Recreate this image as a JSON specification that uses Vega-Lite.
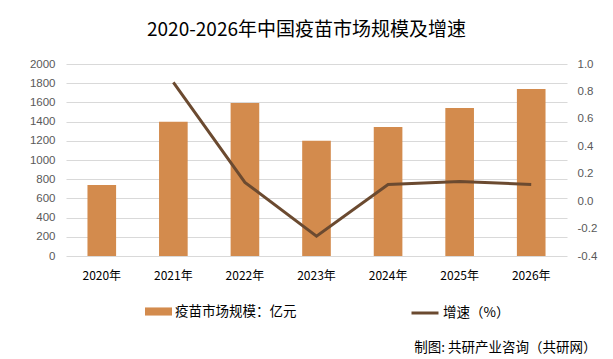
{
  "$schema": "https://vega.github.io/schema/vega-lite/v6.json",
  "width": 501,
  "height": 192,
  "autosize": {"type": "none"},
  "padding": {"left": 66, "top": 64, "right": 46, "bottom": 103},
  "background": "white",
  "title": {
    "text": "2020-2026年中国疫苗市场规模及增速",
    "font": "Noto Sans CJK SC",
    "fontSize": 19,
    "fontWeight": "normal",
    "color": "#000000",
    "anchor": "middle",
    "dx": -10,
    "offset": 18
  },
  "data": {
    "values": [
      {"year": "2020年", "size": 740, "growth": null},
      {"year": "2021年", "size": 1398, "growth": 0.866},
      {"year": "2022年", "size": 1595, "growth": 0.137},
      {"year": "2023年", "size": 1200, "growth": -0.256},
      {"year": "2024年", "size": 1345, "growth": 0.122},
      {"year": "2025年", "size": 1542, "growth": 0.144},
      {"year": "2026年", "size": 1740, "growth": 0.122}
    ]
  },
  "encoding": {
    "x": {
      "field": "year",
      "type": "ordinal",
      "sort": null,
      "scale": {"paddingInner": 0.6, "paddingOuter": 0.3},
      "axis": {
        "title": "制图: 共研产业咨询（共研网）",
        "titleFont": "Noto Sans CJK SC",
        "titleFontSize": 13.5,
        "titleFontWeight": "normal",
        "titleColor": "#000000",
        "titleAnchor": null,
        "titleAlign": "right",
        "titleBaseline": "middle",
        "titleX": 530,
        "titleY": 91,
        "labelAngle": 0,
        "labelFont": "Noto Sans CJK SC",
        "labelFontSize": 12,
        "labelColor": "#000000",
        "labelPadding": 14,
        "ticks": false,
        "domain": false,
        "grid": false
      }
    }
  },
  "layer": [
    {
      "mark": {"type": "bar"},
      "encoding": {
        "y": {
          "field": "size",
          "type": "quantitative",
          "scale": {"domain": [0, 2000], "nice": false},
          "axis": {
            "title": null,
            "values": [0, 200, 400, 600, 800, 1000, 1200, 1400, 1600, 1800, 2000],
            "format": "d",
            "grid": true,
            "gridColor": "#D9D9D9",
            "gridWidth": 1,
            "domain": false,
            "ticks": false,
            "labelPadding": 11,
            "labelFont": "Liberation Sans",
            "labelFontSize": 11.5,
            "labelColor": "#595959"
          }
        },
        "color": {
          "datum": "疫苗市场规模：亿元",
          "type": "nominal",
          "scale": {"range": ["#D38B4D"]},
          "legend": {
            "title": null,
            "orient": "none",
            "legendX": 79,
            "legendY": 234,
            "padding": 0,
            "symbolType": "M-1,-0.3H1V0.3H-1Z",
            "symbolSize": 729,
            "symbolStrokeWidth": 0,
            "labelFont": "Noto Sans CJK SC",
            "labelFontSize": 13.5,
            "labelColor": "#000000",
            "labelOffset": 3
          }
        }
      }
    },
    {
      "mark": {"type": "line", "strokeWidth": 3},
      "encoding": {
        "y": {
          "field": "growth",
          "type": "quantitative",
          "scale": {"domain": [-0.4, 1.0], "nice": false},
          "axis": {
            "orient": "right",
            "title": null,
            "values": [-0.4, -0.2, 0, 0.2, 0.4, 0.6, 0.8, 1.0],
            "labelExpr": "replace(format(datum.value, '.1f'), '−', '-')",
            "grid": false,
            "domain": false,
            "ticks": false,
            "labelPadding": 10,
            "labelFont": "Liberation Sans",
            "labelFontSize": 11.5,
            "labelColor": "#595959"
          }
        },
        "stroke": {
          "datum": "增速（%）",
          "type": "nominal",
          "scale": {"range": ["#6B4A30"]},
          "legend": {
            "title": null,
            "orient": "none",
            "legendX": 344,
            "legendY": 234,
            "padding": 0,
            "symbolType": "stroke",
            "symbolSize": 729,
            "symbolStrokeWidth": 3,
            "labelFont": "Noto Sans CJK SC",
            "labelFontSize": 13.5,
            "labelColor": "#000000",
            "labelOffset": 3
          }
        }
      }
    }
  ],
  "resolve": {"scale": {"y": "independent"}},
  "config": {"view": {"stroke": null}}
}
